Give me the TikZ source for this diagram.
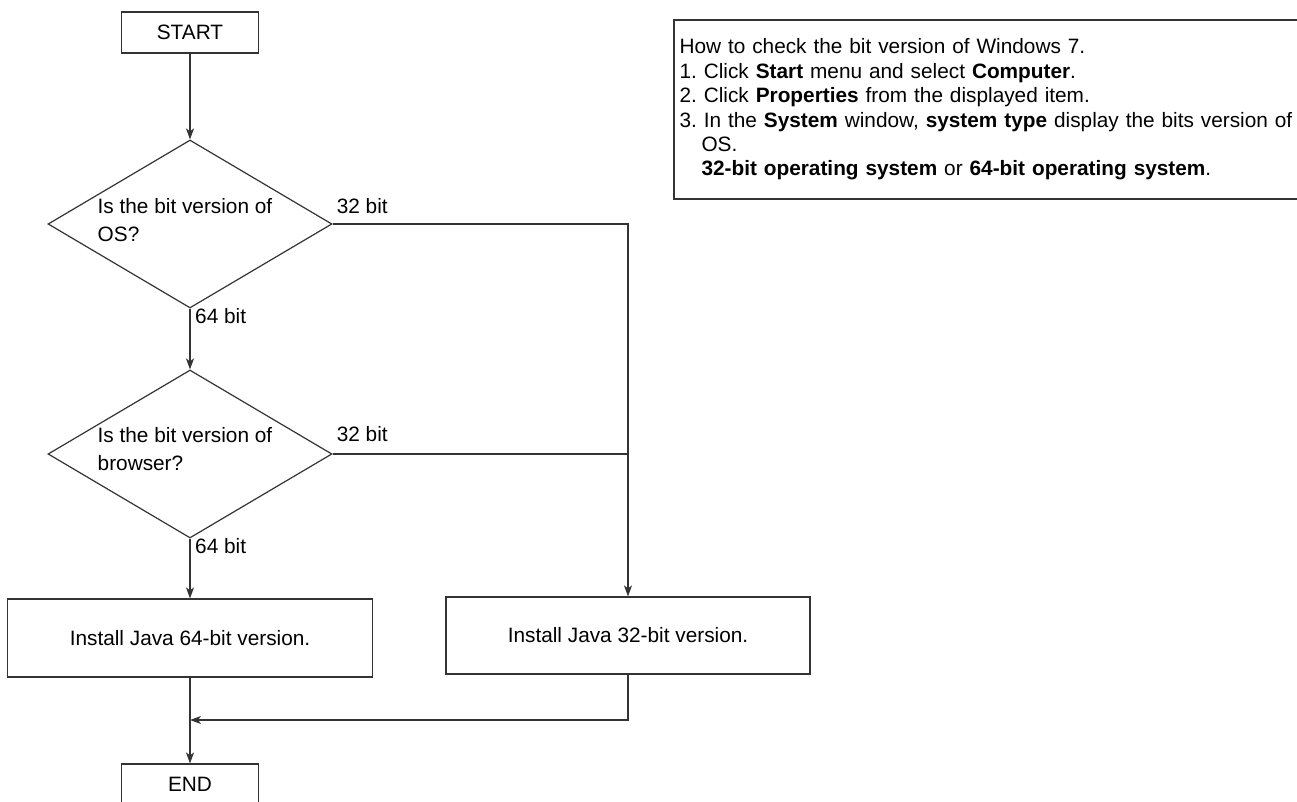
\documentclass[tikz,border=0pt]{standalone}
\usepackage{fontspec}
\setmainfont{Liberation Sans}
\usetikzlibrary{positioning, arrows.meta, calc, shapes.geometric}
\definecolor{lineGry}{RGB}{51,51,51}
\tikzset{
  every node/.style={font=\fontsize{20.8}{28}\selectfont},
  B/.style={draw=lineGry, line width=1.2pt, inner sep=0pt, align=center},
  TERM/.style={B, minimum width=137pt, minimum height=41pt},
  PROC/.style={B, minimum width=364pt, minimum height=77pt},
  DEC/.style={B, diamond, aspect=1.69, minimum width=284pt, minimum height=168pt},
  DTXT/.style={inner sep=0pt, align=left, anchor=north west},
  LBL/.style={inner sep=0pt},
  NOTE/.style={draw=lineGry, line width=2pt, inner xsep=5.5pt, inner ysep=0pt, align=left,
    text width=625pt, minimum height=179pt, font=\fontsize{20.8}{24.4}\selectfont\frenchspacing},
  LN/.style={line width=1.2pt, lineGry},
  AR/.style={-{Stealth[length=11pt, width=8pt, inset=3pt]}, LN},
}
\newcommand{\vdown}[2]{\draw[AR] (#1.south) -- (#2.north);}

\begin{document}
\begin{tikzpicture}[x=1pt, y=1pt, yscale=-1]

\useasboundingbox (0,0) rectangle (1297,802);
\clip (0,0) rectangle (1297,802);

%% ── flow ────────────────────────────────────────────────────────────
\node[TERM] (START) at (190,32.5) {START};

\node[DEC] (OS) at (190,224) {};
\node[DTXT] (OSq) at (97.5,198) {Is the bit version of\\OS?};

\node[DEC] (BRW) at (190,454) {};
\node[DTXT] (BRWq) at (97.5,427.5) {Is the bit version of\\browser?};

\node[PROC, minimum width=365pt, minimum height=78pt] (J64) at (190,638)
  {Install Java 64-bit version.};
\node[PROC] (J32) at (628,635.5) {Install Java 32-bit version.};
\node[TERM] (END) at (190,784.5) {END};

\node[LBL, anchor=south west] (OS32) at ($(OS.east)+(4,-10.5)$) {32 bit};
\node[LBL, anchor=north west] (OS64) at ($(OS.south)+(5,0)$) {64 bit};
\node[LBL, anchor=south west] (BRW32) at ($(BRW.east)+(4,-12.5)$) {32 bit};
\node[LBL, anchor=north west] (BRW64) at ($(BRW.south)+(5,0)$) {64 bit};

\vdown{START}{OS}
\vdown{OS}{BRW}
\vdown{BRW}{J64}
\vdown{J64}{END}
\draw[AR] (OS.east) -| (J32.north);
\draw[LN] (BRW.east) -- (BRW.east -| J32.north);
\coordinate (MRG) at (190,720);
\draw[AR] (J32.south) |- (MRG);

%% ── note ────────────────────────────────────────────────────────────
\node[NOTE, anchor=north west] (INFO) at (673,19)
  {How to check the bit version of Windows 7.\\
   1. Click \textbf{Start} menu and select \textbf{Computer}.\\
   2. Click \textbf{Properties} from the displayed item.\\
   3. In the \textbf{System} window, \textbf{system type} display the bits version of\\
   \hspace*{22pt}OS.\\
   \hspace*{22pt}\textbf{32-bit operating system} or \textbf{64-bit operating system}.};

\end{tikzpicture}
\end{document}
